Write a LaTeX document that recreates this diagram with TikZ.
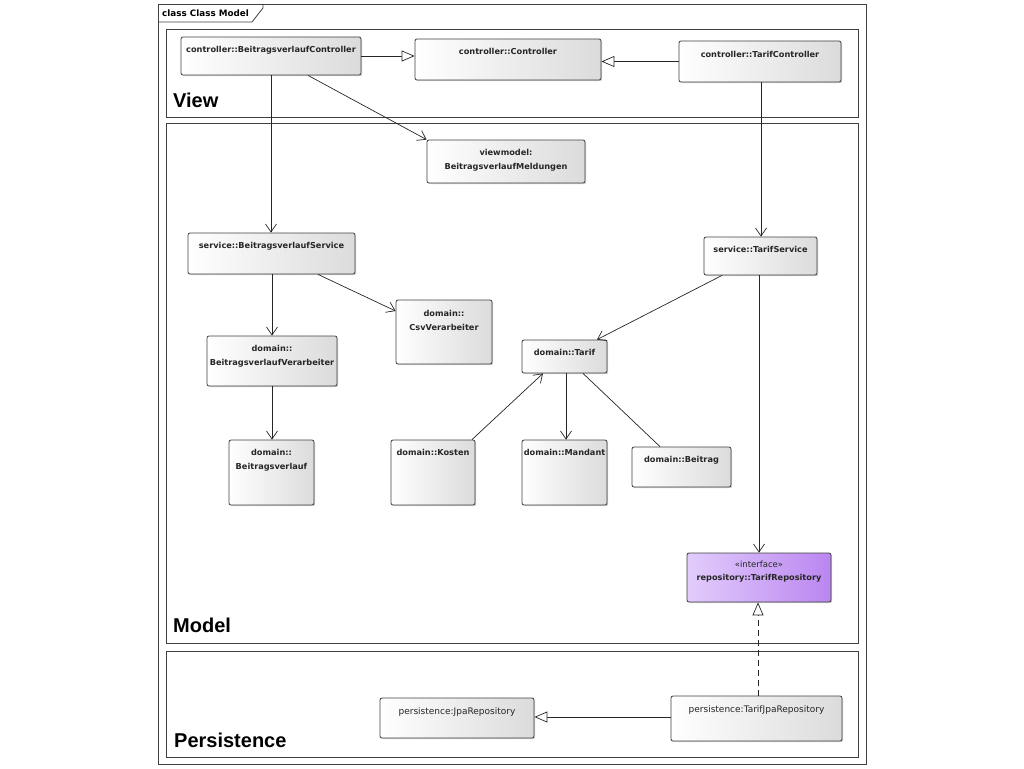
\documentclass[tikz,border=0pt]{standalone}
\usepackage{fontspec}
\usepackage{tikz}
\usetikzlibrary{arrows.meta, positioning, shadows}
\newfontfamily\umlfont{DejaVu Sans}
\newfontfamily\pkgfont{Liberation Sans}
\definecolor{umlline}{HTML}{404040}
\definecolor{ifaceleft}{HTML}{E2CCFC}
\definecolor{ifaceright}{HTML}{BA86F0}

\begin{document}
\begin{tikzpicture}[x=1pt, y=-1pt,
    umlclass/.style={draw=umlline, line width=0.8pt, rectangle, rounded corners=2pt,
        left color=white, right color=black!14, inner sep=0pt,
        drop shadow={shadow xshift=1.2pt, shadow yshift=-1.2pt, opacity=0.35}},
    classname/.style={anchor=north, inner sep=0pt, yshift=-9pt, align=center,
        font=\umlfont\bfseries\fontsize{8.2}{14}\selectfont, text=black!85},
    plainname/.style={classname, yshift=-1pt, font=\umlfont\fontsize{9}{14}\selectfont},
    pkgname/.style={anchor=base west, inner sep=0pt, font=\pkgfont\bfseries\fontsize{20}{20}\selectfont},
    frame/.style={draw=umlline, line width=0.8pt},
    assoc/.style={draw=black!85, line width=0.7pt, -{Straight Barb[length=8pt,width=11pt]}},
    gen/.style={draw=black!85, line width=0.7pt, -{Triangle[open,length=13pt,width=11pt,fill=white]}},
    realize/.style={gen, dash pattern=on 6pt off 4pt}]

    \useasboundingbox (0,0) rectangle (1024,768);

    % Outer frame and tab
    \draw[frame] (158,4) rectangle (866,764);
    \draw[frame] (158,22) -- (252,22) -- (263,8) -- (263,4);
    \node (tabname) [anchor=west, inner sep=0pt, font=\umlfont\bfseries\fontsize{8.8}{9}\selectfont] at (162,13) {class Class Model};

    % Packages
    \draw[frame] (166,29) rectangle (858,117);
    \draw[frame] (166,123) rectangle (858,643);
    \draw[frame] (166,651) rectangle (858,757);
    \node (lblView) [pkgname] at (173,107) {View};
    \node (lblModel) [pkgname] at (173,632) {Model};
    \node (lblPersistence) [pkgname] at (174,747) {Persistence};

    % Nodes for controllers
    \node (ctrlBV) [umlclass, minimum width=180pt, minimum height=38pt,
        label={[classname]north:controller::BeitragsverlaufController}] at (271,56) {};
    \node (ctrl) [umlclass, minimum width=186pt, minimum height=41pt,
        label={[classname]north:controller::Controller}] at (508,59.5) {};
    \node (ctrlTarif) [umlclass, minimum width=162pt, minimum height=41pt,
        label={[classname, yshift=-1pt]north:controller::TarifController}] at (760,61.5) {};

    % Nodes for the model
    \node (vmMeldungen) [umlclass, minimum width=158pt, minimum height=43pt,
        label={[classname]north:{viewmodel:\\BeitragsverlaufMeldungen}}] at (506,161.5) {};
    \node (svcBV) [umlclass, minimum width=167pt, minimum height=41pt,
        label={[classname]north:service::BeitragsverlaufService}] at (271.5,253.5) {};
    \node (svcTarif) [umlclass, minimum width=113pt, minimum height=38pt,
        label={[classname]north:service::TarifService}] at (760.5,256) {};
    \node (domCsv) [umlclass, minimum width=96pt, minimum height=64pt,
        label={[classname, yshift=-1pt]north:{domain::\\CsvVerarbeiter}}] at (444,332) {};
    \node (domBVV) [umlclass, minimum width=130pt, minimum height=50pt,
        label={[classname]north:{domain::\\BeitragsverlaufVerarbeiter}}] at (272,361) {};
    \node (domBV) [umlclass, minimum width=85pt, minimum height=65pt,
        label={[classname]north:{domain::\\Beitragsverlauf}}] at (271.5,472.5) {};
    \node (domTarif) [umlclass, minimum width=85pt, minimum height=33pt,
        label={[classname]north:domain::Tarif}] at (564.5,356.5) {};
    \node (domKosten) [umlclass, minimum width=84pt, minimum height=65pt,
        label={[classname]north:domain::Kosten}] at (433,472.5) {};
    \node (domMandant) [umlclass, minimum width=85pt, minimum height=65pt,
        label={[classname]north:domain::Mandant}] at (564.5,472.5) {};
    \node (domBeitrag) [umlclass, minimum width=99pt, minimum height=40pt,
        label={[classname]north:domain::Beitrag}] at (681.5,467) {};
    \node (repoTarif) [umlclass, left color=ifaceleft, right color=ifaceright, minimum width=144pt, minimum height=49pt,
        label={[classname, yshift=1pt, font=\umlfont\bfseries\fontsize{8.2}{13}\selectfont]north:{{\mdseries\fontsize{8.5}{9}\selectfont «interface»}\\repository::TarifRepository}}] at (759,577.5) {};

    % Nodes for persistence
    \node (jpaTarif) [umlclass, minimum width=171pt, minimum height=45pt,
        label={[plainname]north:persistence:TarifJpaRepository}] at (756.5,718.5) {};
    \node (jpaRepo) [umlclass, minimum width=154pt, minimum height=40pt,
        label={[plainname]north:persistence:JpaRepository}] at (457,718) {};

    % Generalizations
    \draw[gen] (ctrlBV.east) -- (ctrlBV.east -| ctrl.west);
    \draw[gen] (ctrlTarif.west) -- (ctrlTarif.west -| ctrl.east);
    \draw[gen] (jpaTarif.west |- 0,717) -- (jpaRepo.east |- 0,717);
    \draw[realize] (jpaTarif.north -| 758,0) -- (repoTarif.south -| 758,0);

    % Associations
    \draw[assoc] (ctrlBV.south -| 308,0) -- (vmMeldungen.north west);
    \draw[assoc] (ctrlBV.south -| 271,0) -- (svcBV.north -| 271,0);
    \draw[assoc] (ctrlTarif.south -| 761,0) -- (svcTarif.north -| 761,0);
    \draw[assoc] (svcBV.south -| 272,0) -- (domBVV.north -| 272,0);
    \draw[assoc] (svcBV.south -| 318,0) -- (domCsv.west |- 0,311);
    \draw[assoc] (domBVV.south -| 272,0) -- (domBV.north -| 272,0);
    \draw[assoc] (svcTarif.south -| 722,0) -- (domTarif.north -| 597,0);
    \draw[assoc] (domKosten.north -| 472,0) -- (domTarif.south -| 543,0);
    \draw[assoc] (domTarif.south -| 566,0) -- (domMandant.north -| 566,0);
    \draw[draw=black!85, line width=0.7pt] (domTarif.south -| 583,0) -- (domBeitrag.north -| 660,0);
    \draw[assoc] (svcTarif.south -| 759,0) -- (repoTarif.north -| 759,0);

\end{tikzpicture}
\end{document}
